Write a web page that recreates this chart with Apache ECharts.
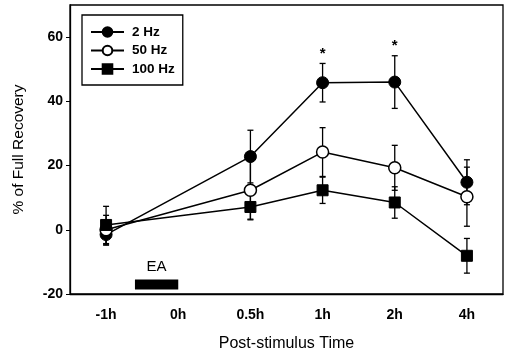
<!DOCTYPE html>
<html>
<head>
<meta charset="utf-8">
<script src="https://cdn.jsdelivr.net/npm/echarts@6/dist/echarts.min.js"></script>
<style>
  html, body { margin: 0; padding: 0; background: #fff; }
  #chart { width: 509px; height: 351px; }
</style>
</head>
<body>
<div id="chart"></div>
<script>
// data
const categories = ["-1h", "0h", "0.5h", "1h", "2h", "4h"];
const hz2 = [-1.5, null, 22.8, 45.8, 46.0, 14.8];
const hz2Err = [3.3, null, 8.2, 6.0, 8.2, 7.0];
const hz50 = [0.0, null, 12.3, 24.2, 19.3, 10.3];
const hz50Err = [4.5, null, 9.0, 7.6, 7.0, 9.2];
const hz100 = [1.5, null, 7.1, 12.3, 8.5, -8.1];
const hz100Err = [5.8, null, 4.0, 4.1, 4.9, 5.4];
const stars = [null, null, null, 54.8, 57.4, null];
const eaSpan = [0.4, 1.0];      // from -1h, in category steps
const eaLevel = [-15.5, -18.6]; // top and bottom of the EA bar
const eaLabel = -11.6;

const font = "Liberation Sans, Arial, sans-serif";
let chart = echarts.init(document.getElementById("chart"));

function errData(vals, errs) {
    let out = [];
    vals.forEach((v, i) => {
        if (v !== null) out.push([i, v, errs[i]]);
    });
    return out;
}

function errorBars(name, vals, errs) {
    return {
        name: name + " err",
        type: "custom",
        z: 1,
        silent: true,
        data: errData(vals, errs),
        renderItem: function (params, api) {
            let x = api.value(0), m = api.value(1), e = api.value(2);
            let hi = api.coord([x, m + e]);
            let lo = api.coord([x, m - e]);
            let w = 3;
            let style = { stroke: "#000", lineWidth: 1.3 };
            return {
                type: "group",
                children: [
                    { type: "line", shape: { x1: hi[0], y1: hi[1], x2: lo[0], y2: lo[1] }, style: style },
                    { type: "line", shape: { x1: hi[0] - w, y1: hi[1], x2: hi[0] + w, y2: hi[1] }, style: style },
                    { type: "line", shape: { x1: lo[0] - w, y1: lo[1], x2: lo[0] + w, y2: lo[1] }, style: style }
                ]
            };
        }
    };
}

let option = {
    backgroundColor: "#fff",
    animation: false,
    grid: {
        left: 70, right: 6, top: 5, bottom: 57,
        outerBoundsMode: "none",
        show: true, borderColor: "#000", borderWidth: 1.3
    },
    legend: {
        data: ["2 Hz", "50 Hz", "100 Hz"],
        orient: "vertical",
        left: 82, top: 15,
        padding: [10, 8, 9, 8],
        itemWidth: 33, itemHeight: 12, itemGap: 4.5,
        borderColor: "#000", borderWidth: 1.3,
        backgroundColor: "#fff",
        textStyle: { fontFamily: font, fontSize: 13.5, fontWeight: "bold", color: "#000", padding: [0, 0, 0, 3] }
    },
    xAxis: {
        type: "category",
        data: categories,
        boundaryGap: true,
        name: "Post-stimulus Time",
        nameLocation: "middle",
        nameGap: 42,
        nameTextStyle: { fontFamily: font, fontSize: 16, color: "#000" },
        axisLine: { onZero: false, lineStyle: { color: "#000", width: 1.3 } },
        axisTick: { alignWithLabel: true, length: 5, lineStyle: { color: "#000" } },
        axisLabel: { fontFamily: font, fontSize: 14, fontWeight: "bold", color: "#000", margin: 14 },
        splitLine: { show: false }
    },
    yAxis: {
        type: "value",
        min: -20, max: 70, interval: 20,
        name: "% of Full Recovery",
        nameLocation: "middle",
        nameGap: 43,
        nameTextStyle: { fontFamily: font, fontSize: 15.5, color: "#000" },
        axisLine: { show: true, lineStyle: { color: "#000", width: 1.3 } },
        axisTick: { show: true, length: 4, lineStyle: { color: "#000" } },
        axisLabel: { fontFamily: font, fontSize: 14, fontWeight: "bold", color: "#000", margin: 7, showMaxLabel: false },
        splitLine: { show: false }
    },
    series: [
        errorBars("2 Hz", hz2, hz2Err),
        errorBars("50 Hz", hz50, hz50Err),
        errorBars("100 Hz", hz100, hz100Err),
        {
            name: "2 Hz", type: "line", data: hz2, connectNulls: true, z: 3,
            symbol: "circle", symbolSize: 12,
            lineStyle: { color: "#000", width: 1.5 },
            itemStyle: { color: "#000", borderColor: "#000", borderWidth: 1 }
        },
        {
            name: "50 Hz", type: "line", data: hz50, connectNulls: true, z: 3,
            symbol: "circle", symbolSize: 12,
            lineStyle: { color: "#000", width: 1.5 },
            itemStyle: { color: "#fff", borderColor: "#000", borderWidth: 1.5 }
        },
        {
            name: "100 Hz", type: "line", data: hz100, connectNulls: true, z: 3,
            symbol: "rect", symbolSize: 11,
            lineStyle: { color: "#000", width: 1.5 },
            itemStyle: { color: "#000", borderColor: "#000", borderWidth: 1 }
        },
        {
            name: "stars", type: "custom", z: 4, silent: true,
            data: stars.map((v, i) => v === null ? null : [i, v]).filter(d => d),
            renderItem: function (params, api) {
                let p = api.coord([api.value(0), api.value(1)]);
                return {
                    type: "text",
                    style: { x: p[0], y: p[1], text: "*", fill: "#000", font: "bold 15px " + font, align: "center", verticalAlign: "middle" }
                };
            }
        },
        {
            name: "EA", type: "custom", z: 4, silent: true,
            data: [[0, eaLevel[0], eaLevel[1]]],
            renderItem: function (params, api) {
                let band = api.size([1, 0])[0];
                let top = api.coord([api.value(0), api.value(1)]);
                let bot = api.coord([api.value(0), api.value(2)]);
                let x0 = top[0] + eaSpan[0] * band;
                let x1 = top[0] + eaSpan[1] * band;
                let lab = api.coord([api.value(0), eaLabel]);
                return {
                    type: "group",
                    children: [
                        { type: "rect", shape: { x: x0, y: top[1], width: x1 - x0, height: bot[1] - top[1] }, style: { fill: "#000" } },
                        { type: "text", style: { x: (x0 + x1) / 2, y: lab[1], text: "EA", fill: "#000", font: "15px " + font, align: "center", verticalAlign: "middle" } }
                    ]
                };
            }
        }
    ]
};
chart.setOption(option);
</script>
</body>
</html>
